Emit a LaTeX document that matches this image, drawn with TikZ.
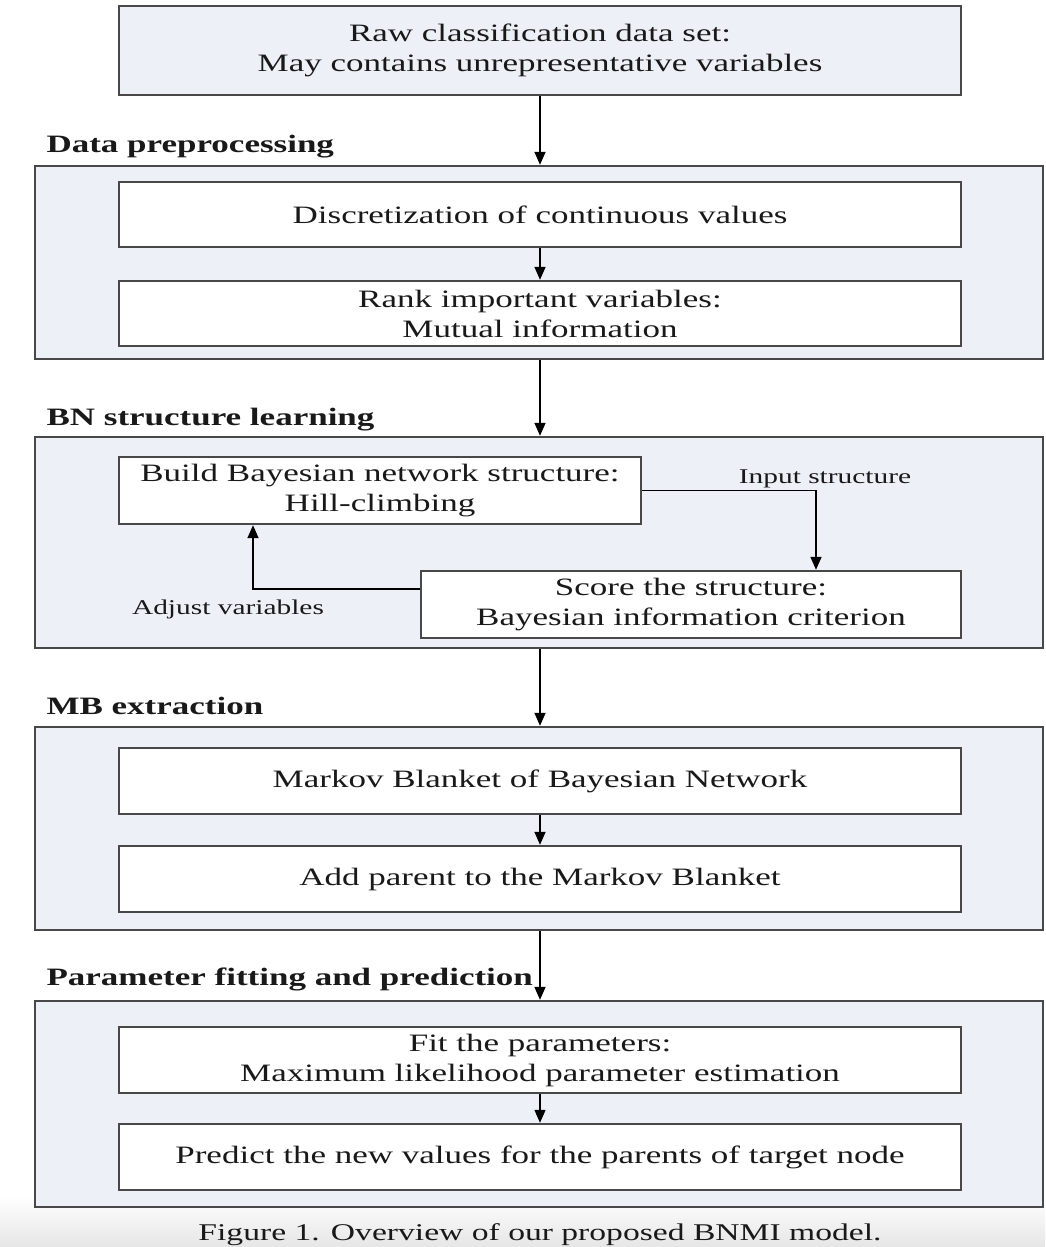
\documentclass[tikz,border=0pt]{standalone}
\usepackage{fontspec}
\setmainfont{Liberation Serif}[FakeStretch=1.4]
\usetikzlibrary{arrows.meta,calc}
\definecolor{panelfill}{RGB}{237,240,246}
\definecolor{edge}{RGB}{72,72,72}
\definecolor{ink}{RGB}{25,25,25}
\begin{document}
\begin{tikzpicture}[x=1pt,y=-1pt,
  panel/.style={draw=edge,line width=2.4pt,fill=panelfill,inner sep=0pt},
  stepbox/.style={draw=edge,line width=2.4pt,fill=white,inner sep=0pt,align=center,
    text=ink,font=\fontsize{25}{30}\selectfont},
  sectlabel/.style={anchor=base west,text=ink,font=\fontsize{25}{30}\selectfont\bfseries},
  note/.style={anchor=base,text=ink,font=\fontsize{21}{25}\selectfont},
  flow/.style={draw=black,line width=1.6pt,-{Triangle[length=13pt,width=11pt]}}]
\useasboundingbox (0,0) rectangle (1045,1247);
\shade[top color=white,bottom color=black!10] (0,1196) rectangle (1045,1247);

% input data set
\node[stepbox,fill=panelfill,minimum width=842pt,minimum height=89pt] (raw) at (540,50.5)
  {Raw classification data set:\\May contains unrepresentative variables};

% stage panels
\node[panel,minimum width=1008pt,minimum height=193pt] (pre) at (539,262.5) {};
\node[panel,minimum width=1008pt,minimum height=211pt] (bn)  at (539,542.5) {};
\node[panel,minimum width=1008pt,minimum height=203pt] (mb)  at (539,828.5) {};
\node[panel,minimum width=1008pt,minimum height=206pt] (fitp) at (539,1104) {};

% stage titles
\node[sectlabel] (tpre) at (43,152) {Data preprocessing};
\node[sectlabel] (tbn)  at (43,425) {BN structure learning};
\node[sectlabel] (tmb)  at (43,714) {MB extraction};
\node[sectlabel] (tfit) at (43,985) {Parameter fitting and prediction};

% data preprocessing
\node[stepbox,minimum width=842pt,minimum height=65pt] (disc) at (540,214.5)
  {Discretization of continuous values};
\node[stepbox,minimum width=842pt,minimum height=65pt] (rank) at (540,313.5)
  {Rank important variables:\\Mutual information};

% structure learning loop
\node[stepbox,minimum width=522pt,minimum height=67pt] (build) at (380,490.5)
  {Build Bayesian network structure:\\Hill-climbing};
\node[stepbox,minimum width=540pt,minimum height=67pt] (score) at (691,604.5)
  {Score the structure:\\Bayesian information criterion};
\node[note] (lin)  at (825,483) {Input structure};
\node[note] (ladj) at (228,614) {Adjust variables};

% Markov blanket
\node[stepbox,minimum width=842pt,minimum height=66pt] (mkv) at (540,781)
  {Markov Blanket of Bayesian Network};
\node[stepbox,minimum width=842pt,minimum height=66pt] (addp) at (540,879)
  {Add parent to the Markov Blanket};

% fitting and prediction
\node[stepbox,minimum width=842pt,minimum height=66pt] (fit) at (540,1060)
  {Fit the parameters:\\Maximum likelihood parameter estimation};
\node[stepbox,minimum width=842pt,minimum height=66pt] (pred) at (540,1157)
  {Predict the new values for the parents of target node};

% caption
\node[anchor=base,text=ink,font=\fontsize{24}{28}\selectfont] (cap) at (540,1240)
  {Figure 1. Overview of our proposed BNMI model.};

% connectors
\coordinate (spine) at (540,0);
\draw[flow] (raw.south) -- (spine |- pre.north);
\draw[flow] (disc.south) -- (rank.north);
\draw[flow] (spine |- pre.south) -- (spine |- bn.north);
\coordinate (inpt) at (816,0);
\draw[flow] (build.east) -| (inpt |- score.north);
\coordinate (adj) at (253,589);
\draw[flow] (score.west |- adj) -- (adj) -- (adj |- build.south);
\draw[flow] (spine |- bn.south) -- (spine |- mb.north);
\draw[flow] (mkv.south) -- (addp.north);
\draw[flow] (spine |- mb.south) -- (spine |- fitp.north);
\draw[flow] (fit.south) -- (pred.north);
\end{tikzpicture}
\end{document}
